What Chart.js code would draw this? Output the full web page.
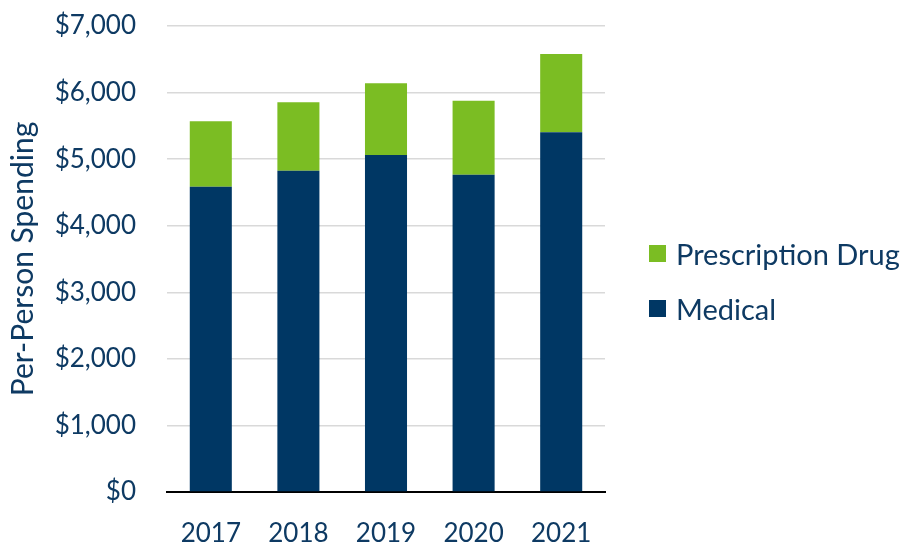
<!DOCTYPE html>
<html lang="en">
<head>
  <meta charset="UTF-8" />
  <title>Per-Person Spending</title>
  <script src="https://cdn.jsdelivr.net/npm/chart.js"></script>
  <style>
    html, body { margin: 0; padding: 0; background: #fff; }
    #wrap { position: relative; width: 904px; height: 546px; }
    #legend { position: absolute; left: 649px; top: 0; font-family: Lato, sans-serif; font-size: 29px; color: #0e3a63; }
    .item { position: absolute; left: 0; white-space: nowrap; display: flex; align-items: center; height: 30px; }
    .box { width: 17px; height: 17px; margin-right: 10px; }
  </style>
</head>
<body>
  <div id="wrap">
    <canvas id="spendChart" width="904" height="546"></canvas>
    <div id="legend"></div>
  </div>

  <script>
    const years = ["2017", "2018", "2019", "2020", "2021"];
    const medical = [4587, 4827, 5062, 4767, 5403];
    const prescriptionDrug = [983, 1027, 1077, 1111, 1177];
    const yTicks = [0, 1000, 2000, 3000, 4000, 5000, 6000, 7000];

    const textColor = "#0e3a63";
    const navy = "#003764";
    const green = "#7bbd23";

    // legend drawn as html so the plot area stays where it is in the original
    const legendItems = [
      { label: "Prescription Drug", color: green, top: 238 },
      { label: "Medical", color: navy, top: 293 }
    ];
    const legend = document.getElementById("legend");
    legendItems.forEach(item => {
      legend.innerHTML += `<div class="item" style="top:${item.top}px"><span class="box" style="background:${item.color}"></span>${item.label}</div>`;
    });

    const ctx = document.getElementById("spendChart").getContext("2d");
    new Chart(ctx, {
      type: "bar",
      data: {
        labels: years,
        datasets: [
          {
            label: "Medical",
            data: medical,
            backgroundColor: navy,
            barPercentage: 0.6,
            categoryPercentage: 0.8
          },
          {
            label: "Prescription Drug",
            data: prescriptionDrug,
            backgroundColor: green,
            barPercentage: 0.6,
            categoryPercentage: 0.8
          }
        ]
      },
      options: {
        responsive: false,
        animation: false,
        layout: { padding: { top: 26, right: 299, bottom: 0, left: 0 } },
        plugins: {
          legend: { display: false },
          tooltip: { enabled: false }
        },
        scales: {
          x: {
            stacked: true,
            grid: { display: false, drawTicks: false },
            border: { display: true, color: "#000", width: 2 },
            ticks: { color: textColor, font: { family: "Lato", size: 26 }, padding: 26 },
            afterFit: scale => { scale.height = 54; }
          },
          y: {
            stacked: true,
            min: 0,
            max: 7000,
            afterBuildTicks: scale => { scale.ticks = yTicks.map(v => ({ value: v })); },
            // invisible tick marks push the labels away from the plot
            grid: { color: "#d9d9d9", lineWidth: 1.5, drawTicks: true, tickLength: 31, tickColor: "rgba(0,0,0,0)" },
            border: { display: false },
            ticks: {
              color: textColor,
              font: { family: "Lato", size: 26 },
              padding: 0,
              callback: v => "$" + v.toLocaleString("en-US")
            },
            title: {
              display: true,
              text: "Per-Person Spending",
              color: textColor,
              font: { family: "Lato", size: 30 },
              padding: { top: 5, bottom: 0 }
            },
            afterFit: scale => { scale.width = 167; }
          }
        }
      }
    });
  </script>
</body>
</html>
